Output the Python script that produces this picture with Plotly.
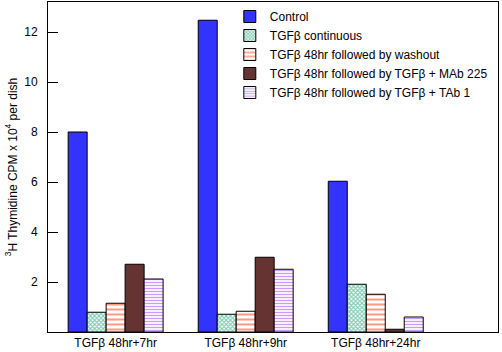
import plotly.graph_objects as go

categories = ["TGFβ 48hr+7hr", "TGFβ 48hr+9hr", "TGFβ 48hr+24hr"]
series_names = [
    "Control",
    "TGFβ continuous",
    "TGFβ 48hr followed by washout",
    "TGFβ 48hr followed by TGFβ + MAb 225",
    "TGFβ 48hr followed by TGFβ + TAb 1",
]
control = [8.0, 12.47, 6.03]
continuous = [0.79, 0.71, 1.91]
washout = [1.15, 0.83, 1.51]
mab225 = [2.71, 2.99, 0.11]
tab1 = [2.12, 2.51, 0.60]
y_ticks = [2, 4, 6, 8, 10, 12]

values = [control, continuous, washout, mab225, tab1]
styles = [
    dict(color="#3333FF"),
    dict(color="white", pattern=dict(shape="x", fgcolor="#009966", bgcolor="white", size=3, solidity=0.6, fillmode="overlay")),
    dict(color="white", pattern=dict(shape="-", fgcolor="#FF3300", bgcolor="white", size=5, solidity=0.4, fillmode="overlay")),
    dict(color="#663333"),
    dict(color="white", pattern=dict(shape="-", fgcolor="#9933FF", bgcolor="white", size=3, solidity=0.45, fillmode="overlay")),
]

fig = go.Figure()
x_idx = list(range(len(categories)))
for name, vals, st in zip(series_names, values, styles):
    marker = dict(line=dict(color="black", width=1), **st)
    fig.add_trace(go.Bar(x=x_idx, y=vals, name=name, marker=marker))

fig.update_layout(
    width=502, height=352,
    margin=dict(l=48, r=4, t=2, b=20),
    barmode="group", bargap=0.27, bargroupgap=0,
    plot_bgcolor="white", paper_bgcolor="white",
    font=dict(family="Liberation Sans, Arial, sans-serif", size=12, color="black"),
    legend=dict(x=0.404, y=1.0, xanchor="left", yanchor="top",
                bgcolor="rgba(0,0,0,0)", font=dict(size=12),
                tracegroupgap=0, itemwidth=30),
    xaxis=dict(tickmode="array", tickvals=x_idx, ticktext=categories,
               range=[-0.52, 2.94], showline=True, linecolor="black", linewidth=1,
               mirror=True, ticks="", showgrid=False, zeroline=False),
    yaxis=dict(range=[0, 13.2], tickvals=y_ticks, ticks="inside", ticklen=10,
               tickcolor="black", showline=True, linecolor="black", linewidth=1,
               mirror=True, showgrid=False, zeroline=False, ticklabelstandoff=7,
               title=dict(text="<sup>3</sup>H Thymidine CPM x 10<sup>4</sup> per dish",
                          font=dict(size=12), standoff=4)),
)

fig.write_html("out.html")
